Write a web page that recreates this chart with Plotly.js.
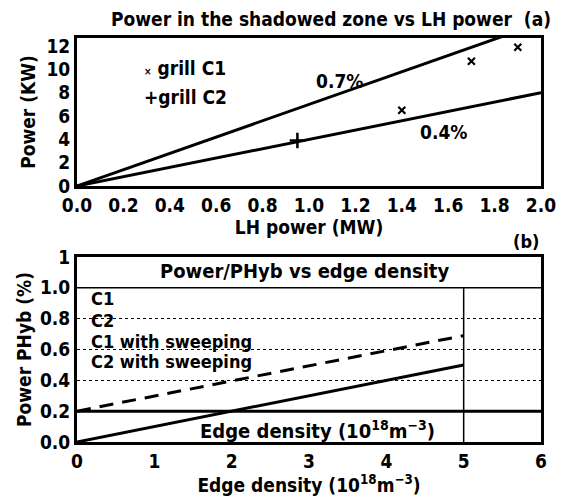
<!DOCTYPE html>
<html>
<head>
<meta charset="utf-8">
<script src="https://cdn.plot.ly/plotly-3.0.1.min.js"></script>
<style>html,body{margin:0;padding:0;background:#fff}#chart{width:561px;height:498px}</style>
</head>
<body>
<div id="chart"></div>
<script>
// ---- Panel (a): power in the shadowed zone vs LH power ----
const lhPowerC1 = [1.4, 1.7, 1.9];          // MW
const shadowPowerC1 = [6.5, 10.7, 11.9];    // kW
const lhPowerC2 = [0.95];
const shadowPowerC2 = [3.9];
const fractionX = [0, 2.0];                 // MW
const fraction07 = [0, 14];                 // kW (0.7 %)
const fraction04 = [0, 8];                  // kW (0.4 %)
const xTicksA = [0, 0.2, 0.4, 0.6, 0.8, 1.0, 1.2, 1.4, 1.6, 1.8, 2.0];
const xTickTextA = ['0.0','0.2','0.4','0.6','0.8','1.0','1.2','1.4','1.6','1.8','2.0'];
const yTicksA = [0, 2, 4, 6, 8, 10, 12];

// ---- Panel (b): power/PHyb vs edge density ----
const densityX = [0, 5];
const ratioSolid = [0, 0.5];
const ratioDashed = [0.2, 0.69];
const xTicksB = [0, 1, 2, 3, 4, 5, 6];
const yTicksB = [0, 0.2, 0.4, 0.6, 0.8, 1.0, 1.2];
const yTickTextB = ['0.0','0.2','0.4','0.6','0.8','1.0','1'];
const thresholdLevel = 0.2;
const headerLevel = 1.0;
const densityLimit = 5;
const legendLabelsB = ['C1', 'C2', 'C1 with sweeping', 'C2 with sweeping'];
const legendYB = [0.93, 0.785, 0.652, 0.525];

const FONT = 'Liberation Sans Narrow, Arial Narrow, DejaVu Sans Condensed, sans-serif';
const f = (s) => ({family: FONT, size: s, color: '#000', weight: 'bold'});

const traces = [
  {x: fractionX, y: fraction07, xaxis: 'x', yaxis: 'y', mode: 'lines', line: {color: '#000', width: 3}, hoverinfo: 'skip'},
  {x: fractionX, y: fraction04, xaxis: 'x', yaxis: 'y', mode: 'lines', line: {color: '#000', width: 3}, hoverinfo: 'skip'},
  {x: lhPowerC1, y: shadowPowerC1, xaxis: 'x', yaxis: 'y', mode: 'markers', name: 'grill C1',
   marker: {symbol: 'x-thin', size: 7, line: {color: '#000', width: 2.2}}},
  {x: lhPowerC2, y: shadowPowerC2, xaxis: 'x', yaxis: 'y', mode: 'markers', name: 'grill C2',
   marker: {symbol: 'cross-thin', size: 11, line: {color: '#000', width: 2.5}}},
  {x: densityX, y: ratioSolid, xaxis: 'x2', yaxis: 'y2', mode: 'lines', line: {color: '#000', width: 3}},
  {x: densityX, y: ratioDashed, xaxis: 'x2', yaxis: 'y2', mode: 'lines', line: {color: '#000', width: 3, dash: '14px,9px'}}
];

const axBase = {showline: true, linecolor: '#000', linewidth: 3, mirror: true, ticks: '', zeroline: false,
                tickfont: f(19), fixedrange: true};

const annotations = [
  {xref: 'x', yref: 'y', x: 1.13, y: 9.0, text: '0.7%', showarrow: false, font: f(19)},
  {xref: 'x', yref: 'y', x: 1.58, y: 4.66, text: '0.4%', showarrow: false, font: f(19)},
  {xref: 'x', yref: 'y', x: 0.28, y: 10.16, xanchor: 'left', text: '<span style="font-size:10px">×</span> grill C1', showarrow: false, font: f(19)},
  {xref: 'x', yref: 'y', x: 0.28, y: 7.64, xanchor: 'left', text: '+grill C2', showarrow: false, font: f(19)},
  {xref: 'x2', yref: 'y2', x: 2.94, y: 1.11, text: 'Power/PHyb vs edge density', showarrow: false, font: f(20)},
  {xref: 'x2', yref: 'y2', x: 3.11, y: 0.075, text: 'Edge density (10<sup>18</sup>m<sup>−3</sup>)', showarrow: false, font: f(20)},
  {xref: 'paper', yref: 'paper', x: 1.0, xanchor: 'right', y: 0.4975, text: '(b)', showarrow: false, font: f(18)}
];
legendLabelsB.forEach((t, i) => annotations.push({xref: 'x2', yref: 'y2', x: 0.16, y: legendYB[i], xanchor: 'left',
  text: t, showarrow: false, font: f(18)}));

const layout = {
  width: 561, height: 498,
  margin: {l: 77, r: 20, t: 38, b: 56},
  paper_bgcolor: '#fff', plot_bgcolor: '#fff',
  showlegend: false,
  title: {text: 'Power in the shadowed zone vs LH power  (a)', font: f(19), x: 0.59, xanchor: 'center', y: 0.962, yanchor: 'middle'},
  xaxis: Object.assign({}, axBase, {domain: [0, 1], anchor: 'y', range: [0, 2.0], tickvals: xTicksA, ticktext: xTickTextA,
    showgrid: false, title: {text: 'LH power (MW)', font: f(19), standoff: 2}}),
  yaxis: Object.assign({}, axBase, {domain: [0.6337, 1], anchor: 'x', range: [0, 12.7], tickvals: yTicksA,
    showgrid: false, title: {text: 'Power (KW)', font: f(19), standoff: 6}}),
  xaxis2: Object.assign({}, axBase, {domain: [0, 1], anchor: 'y2', range: [0, 6], tickvals: xTicksB,
    showgrid: false, title: {text: 'Edge density (10<sup>18</sup>m<sup>−3</sup>)', font: f(19), standoff: 4}}),
  yaxis2: Object.assign({}, axBase, {domain: [0, 0.458], anchor: 'x2', range: [0, 1.2], tickvals: yTicksB, ticktext: yTickTextB,
    showgrid: true, gridcolor: '#000', gridwidth: 1, griddash: 'dot',
    title: {text: 'Power PHyb (%)', font: f(19), standoff: 4}}),
  shapes: [
    {type: 'line', xref: 'x2 domain', yref: 'y2', x0: 0, x1: 1, y0: thresholdLevel, y1: thresholdLevel, line: {color: '#000', width: 3}},
    {type: 'line', xref: 'x2 domain', yref: 'y2', x0: 0, x1: 1, y0: headerLevel, y1: headerLevel, line: {color: '#000', width: 1.5}},
    {type: 'line', xref: 'x2', yref: 'y2', x0: densityLimit, x1: densityLimit, y0: 0, y1: headerLevel, line: {color: '#000', width: 1.5}}
  ],
  annotations: annotations
};

Plotly.newPlot('chart', traces, layout, {displayModeBar: false, staticPlot: true});
</script>
</body>
</html>
